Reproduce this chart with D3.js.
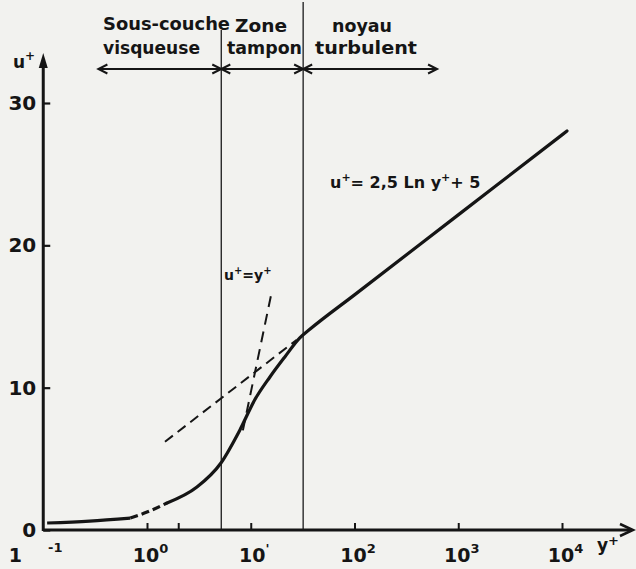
<!DOCTYPE html>
<html>
<head>
<meta charset="utf-8">
<script src="https://cdn.jsdelivr.net/npm/d3@7"></script>
<style>
  body { margin: 0; background: #f2f2ef; }
  svg { display: block; }
  text { font-family: "DejaVu Sans", sans-serif; fill: #151515; font-weight: bold; }
</style>
</head>
<body>
<svg id="canvas" width="636" height="569"></svg>
<script>
// law of the wall, u+ vs y+

// near-wall part, solid
var yPlusWall = [0.109, 0.28, 0.69];
var uPlusWall = [0.49, 0.63, 0.84];
// short dashed bit
var yPlusGap = [0.69, 1.0, 1.56];
var uPlusGap = [0.84, 1.26, 1.90];
// buffer + log region, solid
var yPlusMain = [1.56, 3.03, 5.16, 7.86, 10.9, 15.3, 21.3, 29.7, 37.1, 100, 1000, 10000, 11170];
var uPlusMain = [1.90, 3.02, 4.71, 7.03, 9.13, 10.75, 12.16, 13.5, 14.1, 16.52, 22.14, 27.76, 28.03];
// dashed asymptotes
var yPlusLin = [8.4, 15.9];
var uPlusLin = [7.0, 16.7];
var yPlusLog = [1.49, 27.6];
var uPlusLog = [6.2, 13.35];

// zone limits (y+)
var zoneBounds = [5.2, 32];
var zoneNames = [["Sous-couche", "visqueuse"], ["Zone", "tampon"], ["noyau", "turbulent"]];
var zoneSpans = [[0.34, 5.2], [5.2, 32], [32, 625]];

var xTicks = [0.1, 1, 2, 10, 100, 1000, 10000];
var xExp = {0.1: "-1", 1: "0", 10: "'", 100: "2", 1000: "3", 10000: "4"};
var yTicks = [0, 10, 20, 30];

var svg = d3.select("#canvas");
var width = +svg.attr("width");
var height = +svg.attr("height");
var ink = "#151515";

var x = d3.scaleLog().domain([0.1, 10000]).range([43.25, 562]);
var y = d3.scaleLinear().domain([0, 30]).range([530, 103]);

var line = d3.line()
  .x(function(d) { return x(d[0]); })
  .y(function(d) { return y(d[1]); })
  .curve(d3.curveMonotoneX);

function pairs(a, b) { return a.map(function(v, i) { return [v, b[i]]; }); }

// zone separators
svg.selectAll("line.zone")
  .data(zoneBounds).enter().append("line")
  .attr("class", "zone")
  .attr("x1", function(d) { return x(d); })
  .attr("x2", function(d) { return x(d); })
  .attr("y1", function(d, i) { return i == 0 ? 30 : 2; })
  .attr("y2", y(0))
  .style("stroke", "#2a2a2a")
  .style("stroke-width", 1.4);

// zone arrows
var arrowY = 69;
function head(px, dir) {
  return "M" + (px - dir * 9) + "," + (arrowY - 4.5) + "L" + px + "," + arrowY + "L" + (px - dir * 9) + "," + (arrowY + 4.5);
}
zoneSpans.forEach(function(s) {
  svg.append("line")
    .attr("x1", x(s[0])).attr("x2", x(s[1]))
    .attr("y1", arrowY).attr("y2", arrowY)
    .style("stroke", ink).style("stroke-width", 1.8);
  svg.append("path").attr("d", head(x(s[0]), -1))
    .style("fill", "none").style("stroke", ink).style("stroke-width", 2);
  svg.append("path").attr("d", head(x(s[1]), 1))
    .style("fill", "none").style("stroke", ink).style("stroke-width", 2);
});

// zone names
var zoneText = [
  [{x: 103, y: 30, w: 127}, {x: 103, y: 54, w: 97}],
  [{x: 235, y: 32, w: 52}, {x: 227, y: 54, w: 75}],
  [{x: 332, y: 32, w: 60}, {x: 315, y: 54, w: 102}]
];
zoneNames.forEach(function(names, i) {
  names.forEach(function(n, j) {
    var p = zoneText[i][j];
    svg.append("text")
      .attr("x", p.x).attr("y", p.y)
      .attr("textLength", p.w)
      .attr("lengthAdjust", "spacingAndGlyphs")
      .style("font-size", "18px")
      .text(n);
  });
});

// curves
svg.append("path").datum(pairs(yPlusWall, uPlusWall))
  .attr("d", line)
  .style("fill", "none").style("stroke", ink).style("stroke-width", 3.2);
svg.append("path").datum(pairs(yPlusGap, uPlusGap))
  .attr("d", line)
  .style("fill", "none").style("stroke", ink).style("stroke-width", 3.2)
  .style("stroke-dasharray", "8,4");
svg.append("path").datum(pairs(yPlusMain, uPlusMain))
  .attr("d", line)
  .style("fill", "none").style("stroke", ink).style("stroke-width", 3.2)
  .style("stroke-linecap", "round");
svg.append("path").datum(pairs(yPlusLin, uPlusLin))
  .attr("d", line)
  .style("fill", "none").style("stroke", ink).style("stroke-width", 2)
  .style("stroke-dasharray", "11,7");
svg.append("path").datum(pairs(yPlusLog, uPlusLog))
  .attr("d", line)
  .style("fill", "none").style("stroke", ink).style("stroke-width", 2)
  .style("stroke-dasharray", "10,6");

// x axis
var xAxis = d3.axisBottom(x)
  .tickValues(xTicks)
  .tickSizeInner(-7)
  .tickSizeOuter(0)
  .tickPadding(14)
  .tickFormat("");
var gx = svg.append("g")
  .attr("transform", "translate(0," + y(0) + ")")
  .call(xAxis);
gx.select(".domain").remove();
gx.selectAll(".tick line").style("stroke", ink).style("stroke-width", 2)
  .filter(function(d) { return d == 0.1; }).remove();
gx.selectAll(".tick text")
  .attr("y", 32)
  .attr("dy", 0)
  .style("font-size", "19px")
  .style("font-family", "\"DejaVu Sans\", sans-serif")
  .style("fill", ink)
  .each(function(d) {
    var t = d3.select(this);
    if (!(d in xExp)) return;
    if (d == 0.1) {
      t.attr("text-anchor", "start").attr("x", -35);
      t.append("tspan").text("1");
      t.append("tspan").attr("dx", 26).attr("dy", -10).style("font-size", "13px").text(xExp[d]);
    } else {
      t.attr("x", 3);
      t.append("tspan").text("10");
      t.append("tspan").attr("dy", -9).style("font-size", "13px").text(xExp[d]);
    }
  });

svg.append("line")
  .attr("x1", x(0.1)).attr("x2", 632)
  .attr("y1", y(0)).attr("y2", y(0))
  .style("stroke", ink).style("stroke-width", 3);
svg.append("path")
  .attr("d", "M620," + (y(0) - 6) + "L633," + y(0) + "L620," + (y(0) + 6))
  .style("fill", "none").style("stroke", ink).style("stroke-width", 2.5);

// y axis
var yAxis = d3.axisLeft(y)
  .tickValues(yTicks)
  .tickSizeInner(-7)
  .tickSizeOuter(0)
  .tickPadding(7);
var gy = svg.append("g")
  .attr("transform", "translate(" + x(0.1) + ",0)")
  .call(yAxis);
gy.select(".domain").remove();
gy.selectAll(".tick line").style("stroke", ink).style("stroke-width", 2.2);
gy.selectAll(".tick text")
  .style("font-size", "20px")
  .style("fill", ink)
  .style("font-family", "\"DejaVu Sans\", sans-serif");

svg.append("line")
  .attr("x1", x(0.1)).attr("x2", x(0.1))
  .attr("y1", y(0) + 1).attr("y2", 62)
  .style("stroke", ink).style("stroke-width", 3);
svg.append("path")
  .attr("d", "M" + (x(0.1) - 4.5) + ",68L" + x(0.1) + ",53L" + (x(0.1) + 4.5) + ",68Z")
  .style("fill", ink);

// axis titles
var uLab = svg.append("text").attr("x", 13).attr("y", 68).style("font-size", "17px");
uLab.append("tspan").text("u");
uLab.append("tspan").attr("dy", -8).style("font-size", "12px").text("+");

var yLab = svg.append("text").attr("x", 597).attr("y", 551).style("font-size", "17px");
yLab.append("tspan").text("y");
yLab.append("tspan").attr("dy", -6).style("font-size", "13px").text("+");

// formula labels
var f1 = svg.append("text").attr("x", 224).attr("y", 280)
  .style("font-size", "14px");
f1.append("tspan").text("u");
f1.append("tspan").attr("dy", -6).style("font-size", "10px").text("+");
f1.append("tspan").attr("dy", 6).text("=y");
f1.append("tspan").attr("dy", -6).style("font-size", "10px").text("+");

var f2 = svg.append("text").attr("x", 330).attr("y", 188)
  .style("font-size", "16px");
f2.append("tspan").text("u");
f2.append("tspan").attr("dy", -7).style("font-size", "11px").text("+");
f2.append("tspan").attr("dy", 7).text("= 2,5 Ln y");
f2.append("tspan").attr("dy", -7).style("font-size", "11px").text("+");
f2.append("tspan").attr("dy", 7).text("+ 5");
</script>
</body>
</html>
